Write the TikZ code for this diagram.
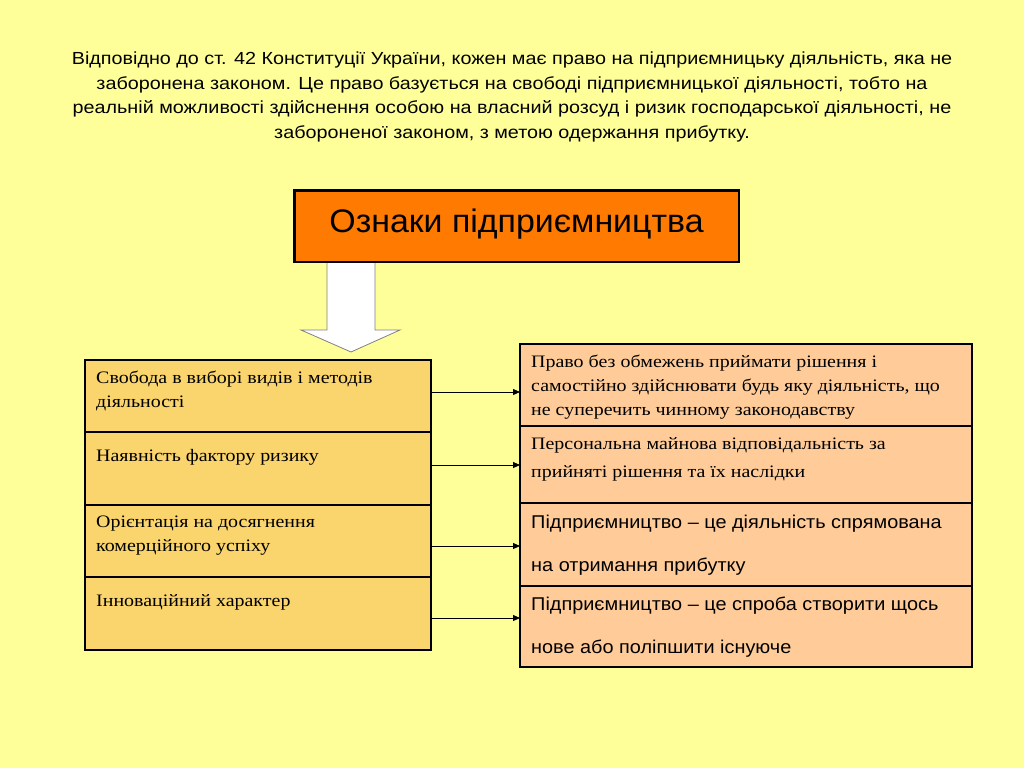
\documentclass[tikz,border=0pt]{standalone}
\usepackage{fontspec}
\setmainfont{Liberation Serif}[FakeStretch=1.14]
\newfontfamily\arialfont{Liberation Sans}[FakeStretch=1.13]
\newfontfamily\rowfont{Liberation Sans}[FakeStretch=1.075]
\newfontfamily\headfont{Liberation Sans}[FakeStretch=1.04]
\usetikzlibrary{arrows.meta,positioning,calc,fit}
\definecolor{bgyellow}{RGB}{255,255,153}
\definecolor{titleorange}{RGB}{255,122,0}
\definecolor{leftfill}{RGB}{250,212,108}
\definecolor{rightfill}{RGB}{255,204,153}
\tikzset{
  rowL/.style={draw,line width=1.2pt,fill=leftfill,minimum width=346pt,inner sep=0pt,outer sep=0pt},
  rowR/.style={draw,line width=1.2pt,fill=rightfill,minimum width=452pt,inner sep=0pt,outer sep=0pt},
  frame/.style={draw,line width=2.5pt,inner sep=0pt},
  lbl/.style={anchor=north west,align=left,inner sep=0pt,execute at begin node={\rule{0pt}{16pt}}},
  serif/.style={lbl,font=\fontsize{17.5}{24}\selectfont},
  sans/.style={lbl,font=\rowfont\fontsize{18.5}{43}\selectfont},
  titlebox/.style={draw,line width=2.5pt,fill=titleorange,minimum width=444.5pt,inner sep=0pt,
    text height=41.75pt,text depth=29.75pt,font=\headfont\fontsize{32.6}{38}\selectfont},
  conn/.style={-{Triangle[length=7pt,width=6pt]},line width=0.8pt},
  downarr/.style={fill=white,draw=gray,line width=0.8pt}
}
\begin{document}
\begin{tikzpicture}[x=1pt,y=-1pt]
  \fill[bgyellow] (0,0) rectangle (1024,768);
  \useasboundingbox (0,0) rectangle (1024,768);
  % Intro text
  \node[align=center,inner sep=0pt,anchor=north,font=\arialfont\fontsize{17.5}{24.5}\selectfont] (intro) at (512,52)
    {Відповідно до ст. 42 Конституції України, кожен має право на підприємницьку діяльність, яка не\\
     заборонена законом. Це право базується на свободі підприємницької діяльності, тобто на\\
     реальній можливості здійснення особою на власний розсуд і ризик господарської діяльності, не\\
     забороненої законом, з метою одержання прибутку.};

  % Title and block arrow
  \node[titlebox,anchor=north] (title) at (516.5,189) {Ознаки підприємництва};
  \coordinate (atop) at ($(title.south west)+(34,0)$);
  \filldraw[downarr] (atop) -- ++(0,67) -- ++(-26,0) -- ++(50,22) -- ++(49,-22) -- ++(-25,0) -- ++(0,-67);

  % Left column
  \node[rowL,anchor=north west,minimum height=72pt] (L1) at (85,360) {};
  \node[rowL,below=0pt of L1,minimum height=73pt] (L2) {};
  \node[rowL,below=0pt of L2,minimum height=72pt] (L3) {};
  \node[rowL,below=0pt of L3,minimum height=73pt] (L4) {};
  \node[frame,fit=(L1) (L4)] (Lbox) {};
  \node[serif] (tL1) at ($(L1.north west)+(11,11)$) {Свобода в виборі видів і методів\\діяльності};
  \node[serif] (tL2) at ($(L2.north west)+(11,13)$) {Наявність фактору ризику};
  \node[serif] (tL3) at ($(L3.north west)+(11,11)$) {Орієнтація на досягнення\\комерційного успіху};
  \node[serif] (tL4) at ($(L4.north west)+(11,13)$) {Інноваційний характер};

  % Right column
  \node[rowR,anchor=north west,minimum height=82pt] (R1) at (520,344) {};
  \node[rowR,below=0pt of R1,minimum height=77pt] (R2) {};
  \node[rowR,below=0pt of R2,minimum height=83pt] (R3) {};
  \node[rowR,below=0pt of R3,minimum height=81pt] (R4) {};
  \node[frame,fit=(R1) (R4)] (Rbox) {};
  \node[serif] (tR1) at ($(R1.north west)+(11,11)$)
    {Право без обмежень приймати рішення і\\самостійно здійснювати будь яку діяльність, що\\не суперечить чинному законодавству};
  \node[serif,font=\fontsize{17.5}{28}\selectfont] (tR2) at ($(R2.north west)+(11,11)$)
    {Персональна майнова відповідальність за\\прийняті рішення та їх наслідки};
  \node[sans] (tR3) at ($(R3.north west)+(11,12)$) {Підприємництво – це діяльність спрямована\\на отримання прибутку};
  \node[sans] (tR4) at ($(R4.north west)+(11,11)$) {Підприємництво – це спроба створити щось\\нове або поліпшити існуюче};

  % Connectors
  \foreach \i/\dy in {1/4,2/3.5,3/-5,4/-4.5}
    \draw[conn] ([yshift=\dy pt]L\i.east) -- ([yshift=\dy pt]L\i.east -| R\i.west);
\end{tikzpicture}
\end{document}
